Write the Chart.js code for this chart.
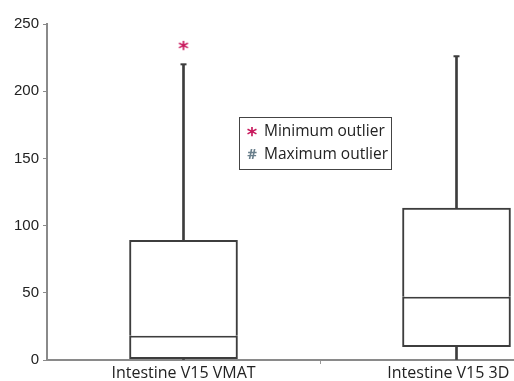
<!DOCTYPE html>
<html>
<head>
<meta charset="utf-8">
<script src="https://cdn.jsdelivr.net/npm/chart.js@4/dist/chart.umd.min.js"></script>
<style>
html, body { margin: 0; padding: 0; background: #fff; overflow: hidden; }
#wrap { width: 514px; height: 381px; }
</style>
</head>
<body>
<div id="wrap"><canvas id="myChart" width="514" height="381"></canvas></div>
<script>
const categories = ['Intestine V15 VMAT', 'Intestine V15 3D'];
const catPos = [0.5, 1.5];
const mins = [0, 0];
const q1s = [1, 10];
const medians = [18, 47];
const q3s = [89, 113];
const maxs = [220, 226];
const outliers = [233, null];
const yTicks = [0, 50, 100, 150, 200, 250];

const lineCol = '#3d3d3d';
const starCol = '#c8185c';
const txtFont = '"Open Sans", "Noto Sans", sans-serif';

// asterisk glyph used as point style
function glyph(ch, color, size) {
  const c = document.createElement('canvas');
  c.width = 16; c.height = 16;
  const g = c.getContext('2d');
  g.fillStyle = color;
  g.font = 'bold ' + size + 'px "DejaVu Sans", sans-serif';
  g.textAlign = 'center';
  g.textBaseline = 'middle';
  g.fillText(ch, 8, 11);
  return c;
}
const starImg = glyph('*', starCol, 20);

function pts(a) { return catPos.map((x, i) => ({ x: x, y: a[i] })); }
function ranges(lo, hi) { return catPos.map((x, i) => ({ x: x, y: [lo[i], hi[i]] })); }

const boxStyle = {
  type: 'bar', grouped: false, barThickness: 108,
  backgroundColor: '#fff', borderColor: lineCol, borderSkipped: false
};
const whiskerStyle = {
  type: 'bar', grouped: false, barThickness: 2,
  backgroundColor: lineCol, borderWidth: 0
};

const capPlugin = {
  id: 'caps',
  afterDatasetsDraw(chart) {
    const ctx = chart.ctx, xs = chart.scales.x, ys = chart.scales.y;
    ctx.save();
    ctx.strokeStyle = lineCol;
    ctx.lineWidth = 2;
    catPos.forEach((p, i) => {
      const px = xs.getPixelForValue(p);
      const py = ys.getPixelForValue(maxs[i]);
      ctx.beginPath();
      ctx.moveTo(px - 3, py); ctx.lineTo(px + 3, py);
      ctx.stroke();
    });
    // legend
    ctx.lineWidth = 1;
    ctx.strokeStyle = '#444';
    ctx.strokeRect(239.5, 117.5, 152, 52);
    ctx.font = '15.5px ' + txtFont;
    ctx.textBaseline = 'middle';
    ctx.fillStyle = '#222';
    ctx.fillText('Minimum outlier', 264, 132);
    ctx.fillText('Maximum outlier', 264, 155);
    ctx.drawImage(starImg, 244, 125);
    ctx.fillStyle = '#6a7f8c';
    ctx.font = 'bold 15px ' + txtFont;
    ctx.textAlign = 'center';
    ctx.fillText('#', 252, 155);
    ctx.restore();
  }
};

const data = {
  datasets: [
    Object.assign({ data: ranges(mins, q1s) }, whiskerStyle),
    Object.assign({ data: ranges(q3s, maxs) }, whiskerStyle),
    Object.assign({ data: ranges(medians, q3s), borderWidth: { top: 2, left: 2, right: 2, bottom: 0 } }, boxStyle),
    Object.assign({ data: ranges(q1s, medians), borderWidth: 2 }, boxStyle),
    {
      type: 'scatter',
      data: pts(outliers).filter(d => d.y !== null),
      pointStyle: starImg,
      pointRadius: 8
    }
  ]
};

const config = {
  type: 'bar',
  data: data,
  plugins: [capPlugin],
  options: {
    responsive: false,
    animation: false,
    layout: { autoPadding: false, padding: { top: 24, right: 0, left: 0, bottom: 0 } },
    plugins: { legend: { display: false }, tooltip: { enabled: false } },
    scales: {
      x: {
        type: 'linear',
        offset: false,
        min: 0,
        max: 467 / 273,
        afterBuildTicks(scale) {
          // last label nudged left so it stays inside the frame
          scale.ticks = [{ value: 0.5 }, { value: 1 }, { value: 1.47 }];
        },
        afterFit(scale) {
          scale.height = 21;
          scale.paddingLeft = 0;
          scale.paddingRight = 0;
        },
        ticks: {
          autoSkip: false,
          maxRotation: 0,
          padding: 0,
          color: '#222',
          font: { family: txtFont, size: 16 },
          callback: (v, i) => i === 0 ? categories[0] : i === 2 ? categories[1] : ''
        },
        grid: {
          offset: false,
          drawOnChartArea: false,
          tickLength: 4,
          color: c => c.index === 1 ? '#999' : 'rgba(0,0,0,0)'
        },
        border: { color: '#8a8a8a', width: 2 }
      },
      y: {
        min: 0,
        max: 250,
        afterBuildTicks(scale) {
          scale.ticks = yTicks.map(v => ({ value: v }));
        },
        afterFit(scale) { scale.width = 47; },
        ticks: {
          padding: 4,
          color: '#222',
          font: { family: '"Liberation Sans", Arial, sans-serif', size: 15 }
        },
        grid: { drawOnChartArea: false, tickLength: 4, color: '#8a8a8a' },
        border: { color: '#8a8a8a', width: 2 }
      }
    }
  }
};

const myChart = new Chart(document.getElementById('myChart'), config);
</script>
</body>
</html>
